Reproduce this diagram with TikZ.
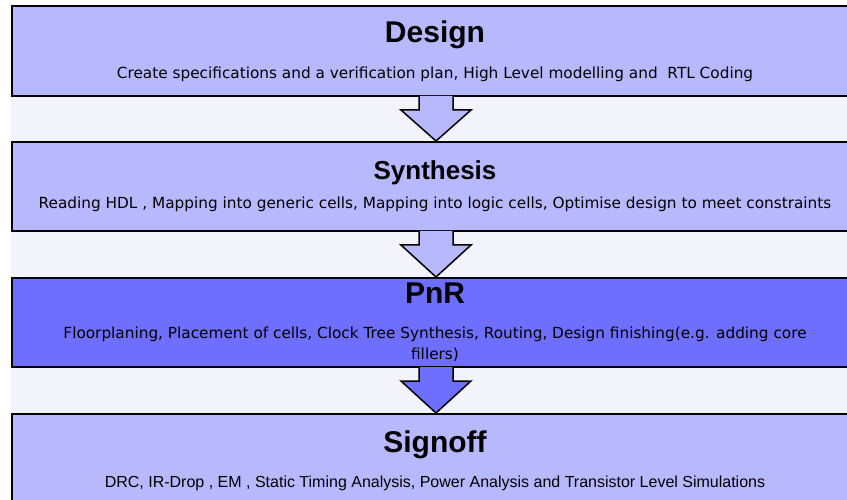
\documentclass[tikz,border=0pt]{standalone}
\usepackage{fontspec}
\setmainfont{Liberation Sans}
\newfontfamily\descfont{DejaVu Sans}
\usetikzlibrary{calc}
\pgfdeclarelayer{bglayer}
\pgfdeclarelayer{nodelayer}
\pgfdeclarelayer{edgelayer}
\pgfsetlayers{bglayer,nodelayer,edgelayer,main}
\definecolor{stagefill}{HTML}{B8B8FF}
\definecolor{activefill}{HTML}{6E6EFF}
\definecolor{pagefill}{HTML}{F3F3FB}
\tikzstyle{stage}=[rectangle,draw=black,line width=2pt,fill=stagefill,minimum width=848pt,minimum height=90pt,anchor=north west,inner sep=0pt]
\tikzstyle{title}=[font=\fontsize{30}{36}\selectfont\bfseries,anchor=base,inner sep=0pt]
\tikzstyle{desc}=[font=\descfont\fontsize{15.3}{21}\selectfont,anchor=base,inner sep=0pt,align=center]
\tikzstyle{flow}=[draw=black,line width=1.5pt,line join=miter]

\begin{document}
\begin{tikzpicture}[x=1pt,y=-1pt]
	\useasboundingbox (0,0) rectangle (847,500);
	\begin{pgfonlayer}{bglayer}
		\fill [pagefill] (11,5) rectangle (847,500);
	\end{pgfonlayer}
	\begin{pgfonlayer}{nodelayer}
		\node [style=stage] (0) at (11,5) {};
		\node [style=stage, minimum height=89pt] (1) at (11,141) {};
		\node [style=stage, minimum height=89pt, fill=activefill] (2) at (11,277) {};
		\node [style=stage] (3) at (11,413) {};
		\node [style=title] (t0) at (435,43) {Design};
		\node [style=desc] (d0) at (435,79) {Create specifications and a verification plan, High Level modelling and \ RTL Coding};
		\node [style=title, font=\fontsize{26}{30}\selectfont\bfseries] (t1) at (435,180) {Synthesis};
		\node [style=desc] (d1) at (435,209) {Reading HDL , Mapping into generic cells, Mapping into logic cells, Optimise design to meet constraints};
		\node [style=title] (t2) at (435,303) {PnR};
		\node [style=desc, anchor=north] (d2) at (435,327) {Floorplaning, Placement of cells, Clock Tree Synthesis, Routing, Design finishing(e.g. adding core\\fillers)};
		\node [style=title] (t3) at (435,452) {Signoff};
		\node [style=desc, font=\fontsize{16}{18}\selectfont] (d3) at (435,487) {DRC, IR-Drop , EM , Static Timing Analysis, Power Analysis and Transistor Level Simulations};
	\end{pgfonlayer}
	\begin{pgfonlayer}{edgelayer}
		\filldraw [style=flow, fill=stagefill] ($(0.south)+(-17,-1)$) -- ($(0.south)+(-17,13)$) -- ($(0.south)+(-35,13)$) -- (1.north) -- ($(0.south)+(35,13)$) -- ($(0.south)+(17,13)$) -- ($(0.south)+(17,-1)$);
		\filldraw [style=flow, fill=stagefill] ($(1.south)+(-17,-1)$) -- ($(1.south)+(-17,13)$) -- ($(1.south)+(-35,13)$) -- (2.north) -- ($(1.south)+(35,13)$) -- ($(1.south)+(17,13)$) -- ($(1.south)+(17,-1)$);
		\filldraw [style=flow, fill=activefill] ($(2.south)+(-17,-1)$) -- ($(2.south)+(-17,13)$) -- ($(2.south)+(-35,13)$) -- (3.north) -- ($(2.south)+(35,13)$) -- ($(2.south)+(17,13)$) -- ($(2.south)+(17,-1)$);
	\end{pgfonlayer}
\end{tikzpicture}
\end{document}
